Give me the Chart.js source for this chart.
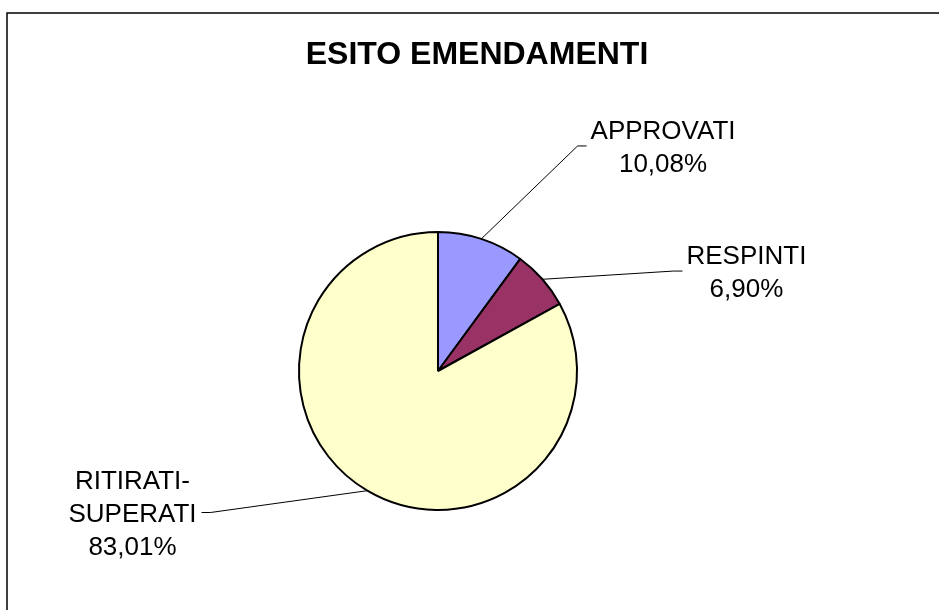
<!DOCTYPE html>
<html>
<head>
<meta charset="utf-8">
<script src="https://cdn.jsdelivr.net/npm/chart.js@4/dist/chart.umd.min.js"></script>
<style>
  html, body { margin: 0; padding: 0; background: #ffffff; }
  #wrap { position: relative; width: 939px; height: 610px; }
</style>
</head>
<body>
<div id="wrap"><canvas id="c" width="939" height="610"></canvas></div>
<script>
// ---- data ----
const chartTitle = "ESITO EMENDAMENTI";
const categories = [["APPROVATI"], ["RESPINTI"], ["RITIRATI-", "SUPERATI"]];
const values = [10.08, 6.90, 83.01];
const sliceColors = ["#9999FF", "#993366", "#FFFFCC"];

// label block centres, in units of the pie radius, relative to the pie centre
const labelPlacement = [[1.619, -1.619], [2.219, -0.719], [-2.198, 1.018]];

const labelFont = '26px "Liberation Sans", Arial, sans-serif';
const titleFont = 'bold 32px "Liberation Sans", Arial, sans-serif';

function fmtPct(v) { return v.toFixed(2).replace('.', ',') + '%'; }

const decorPlugin = {
  id: 'decor',
  afterDraw(chart) {
    const ctx = chart.ctx;
    ctx.save();
    // frame (left and top edges visible)
    ctx.strokeStyle = '#000';
    ctx.lineWidth = 1.5;
    ctx.beginPath();
    ctx.moveTo(7, chart.height + 5);
    ctx.lineTo(7, 13);
    ctx.lineTo(chart.width + 5, 13);
    ctx.stroke();

    // title
    ctx.fillStyle = '#000';
    ctx.font = titleFont;
    ctx.textAlign = 'center';
    ctx.textBaseline = 'alphabetic';
    ctx.fillText(chartTitle, 477, 64);

    // labels with leader lines
    const meta = chart.getDatasetMeta(0);
    ctx.font = labelFont;
    const lineH = 33;
    const capH = 26 * 0.716;
    meta.data.forEach((arc, i) => {
      const p = arc.getProps(['x', 'y', 'startAngle', 'endAngle', 'outerRadius'], true);
      const R = p.outerRadius;
      const mid = (p.startAngle + p.endAngle) / 2;
      const ax = p.x + Math.cos(mid) * R;
      const ay = p.y + Math.sin(mid) * R;
      const lines = categories[i].concat([fmtPct(values[i])]);
      const cx = p.x + labelPlacement[i][0] * R;
      const cy = p.y + labelPlacement[i][1] * R;
      let w = 0;
      lines.forEach(t => { w = Math.max(w, ctx.measureText(t).width); });
      const right = cx > p.x;
      const endX = right ? cx - w / 2 - 4 : cx + w / 2 + 5;
      const elbowX = right ? endX - 9 : endX + 9;
      ctx.lineWidth = 1;
      ctx.strokeStyle = '#000';
      ctx.beginPath();
      ctx.moveTo(ax, ay);
      ctx.lineTo(elbowX, cy);
      ctx.lineTo(endX, cy);
      ctx.stroke();
      ctx.textAlign = 'center';
      ctx.textBaseline = 'alphabetic';
      const first = cy - (lines.length - 1) * lineH / 2 + capH / 2;
      lines.forEach((t, k) => ctx.fillText(t, cx, first + k * lineH));
    });
    ctx.restore();
  }
};

new Chart(document.getElementById('c'), {
  type: 'pie',
  data: {
    labels: categories.map(c => c.join(' ')),
    datasets: [{
      data: values,
      backgroundColor: sliceColors,
      borderColor: '#000000',
      borderWidth: 2
    }]
  },
  options: {
    responsive: false,
    animation: false,
    layout: { padding: { top: 231, bottom: 99, left: 0, right: 63 } },
    plugins: {
      legend: { display: false },
      tooltip: { enabled: false },
      title: { display: false }
    }
  },
  plugins: [decorPlugin]
});
</script>
</body>
</html>
